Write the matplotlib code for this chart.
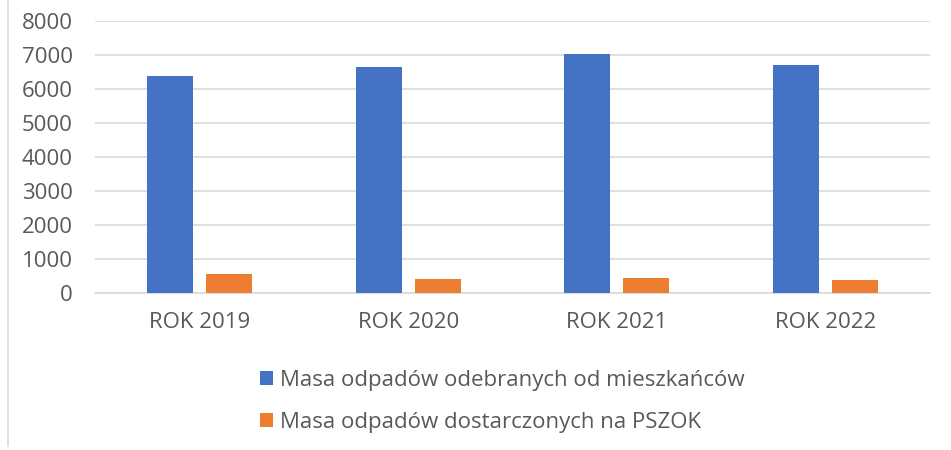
import matplotlib
matplotlib.use("Agg")
import matplotlib.pyplot as plt
import numpy as np
from matplotlib.lines import Line2D

categories = ["ROK 2019", "ROK 2020", "ROK 2021", "ROK 2022"]
series_names = ["Masa odpadów odebranych od mieszkańców", "Masa odpadów dostarczonych na PSZOK"]
collected = [6390, 6640, 7030, 6720]
pszok = [565, 415, 430, 385]
yticks = [0, 1000, 2000, 3000, 4000, 5000, 6000, 7000, 8000]

colors = ["#4472C4", "#ED7D31"]
text_color = "#595959"
grid_color = "#D9D9D9"

plt.rcParams['font.family'] = ['Open Sans', 'DejaVu Sans']

fig = plt.figure(figsize=(9.51, 4.5), dpi=100)
ax = fig.add_axes([95/951, 1-293/450, (930-95)/951, (293-21)/450])

x = np.arange(len(categories))
w = 0.22
off = 0.141
b1 = ax.bar(x - off, collected, width=w, color=colors[0], label=series_names[0], zorder=3)
b2 = ax.bar(x + off, pszok, width=w, color=colors[1], label=series_names[1], zorder=3)

ax.set_xlim(-0.5, len(categories) - 0.5)
ax.set_ylim(0, 8000)
ax.set_yticks(yticks)
ax.set_yticklabels([str(t) for t in yticks])
ax.set_xticks(x)
ax.set_xticklabels(categories)
ax.yaxis.grid(True, color=grid_color, linewidth=1.2, zorder=0)
ax.set_axisbelow(True)
for s in ["top", "right", "left"]:
    ax.spines[s].set_visible(False)
ax.spines["bottom"].set_color(grid_color)
ax.spines["bottom"].set_linewidth(1.2)
ax.tick_params(axis="both", length=0, colors=text_color, labelsize=16)
ax.tick_params(axis="x", pad=14)
ax.tick_params(axis="y", pad=16)

leg = fig.legend(handles=[b1, b2], labels=series_names, loc="upper left",
                 bbox_to_anchor=(240/951, 1-350/450), frameon=False,
                 fontsize=16, labelcolor=text_color, handlelength=0.6,
                 handleheight=0.6, handletextpad=0.3, labelspacing=0.95)

fig.add_artist(Line2D([7.5/951, 7.5/951], [0.01, 1], color="#D9D9D9", linewidth=1.2,
                      transform=fig.transFigure))

fig.savefig("out.png", dpi=100, facecolor="white")
